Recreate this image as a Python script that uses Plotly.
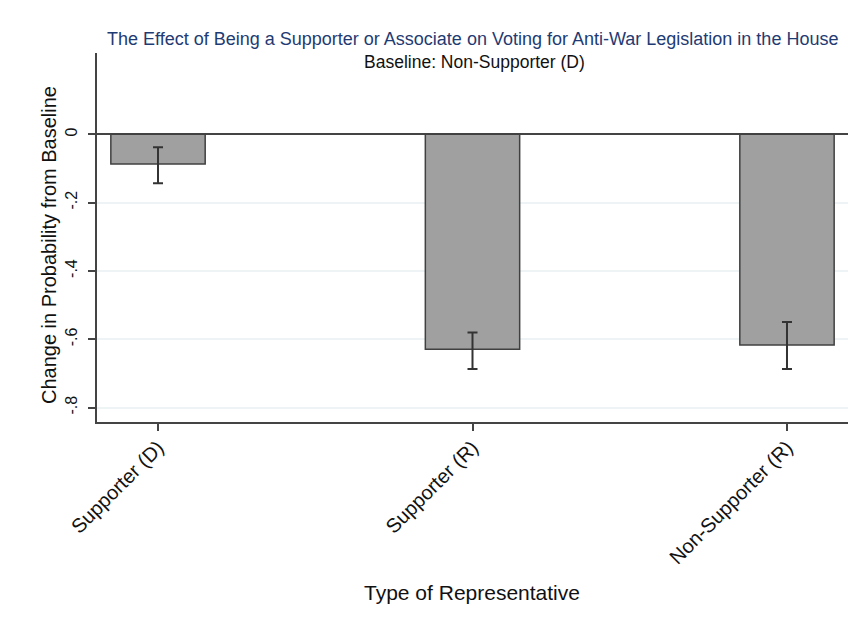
import plotly.graph_objects as go

categories = ["Supporter (D)", "Supporter (R)", "Non-Supporter (R)"]
effects = [-0.087, -0.629, -0.617]
ci_upper = [-0.038, -0.580, -0.549]
ci_lower = [-0.143, -0.687, -0.687]
ytick_vals = [0, -0.2, -0.4, -0.6, -0.8]
ytick_text = ["0", "-.2", "-.4", "-.6", "-.8"]

err_plus = [u - e for u, e in zip(ci_upper, effects)]
err_minus = [e - l for e, l in zip(effects, ci_lower)]

xpos = list(range(len(categories)))

W, H = 856, 622
OFF = 8  # page body offset
# desired on-screen plot box: left 97, right 848, top 53, bottom 422
ML = 97 - OFF
MT = 53 - OFF
MR = W - (848 - OFF)
MB = H - (422 - OFF)
plot_w = W - ML - MR
plot_h = H - MT - MB


def py(pix):
    return 1 - (pix - OFF - MT) / plot_h


def px(pix):
    return (pix - OFF - ML) / plot_w


fig = go.Figure()
fig.add_trace(go.Bar(
    x=xpos, y=effects, width=0.3,
    marker=dict(color="#a0a0a0", line=dict(color="#404040", width=1.5)),
    error_y=dict(type="data", symmetric=False, array=err_plus, arrayminus=err_minus,
                 color="#333333", thickness=2, width=5),
    showlegend=False,
))

font = "Liberation Sans, Arial, sans-serif"
fig.update_layout(
    width=W, height=H,
    margin=dict(l=ML, r=MR, t=MT, b=MB),
    plot_bgcolor="white", paper_bgcolor="white",
    font=dict(family=font, color="#111111"),
    annotations=[
        dict(text="The Effect of Being a Supporter or Associate on Voting for Anti-War Legislation in the House",
             x=px(472), xref="paper", y=py(39), yref="paper", showarrow=False,
             font=dict(size=18, color="#1f3b73"), yanchor="middle", xanchor="center"),
        dict(text="Baseline: Non-Supporter (D)", x=px(474), xref="paper", y=py(62), yref="paper",
             showarrow=False, font=dict(size=17.5, color="#111111"), yanchor="middle", xanchor="center"),
        dict(text="Type of Representative", x=px(472), xref="paper", y=py(592), yref="paper",
             showarrow=False, font=dict(size=21, color="#111111"), yanchor="middle", xanchor="center"),
        dict(text="Change in Probability from Baseline", x=px(49), xref="paper", y=py(245), yref="paper",
             showarrow=False, textangle=-90, font=dict(size=20, color="#111111"),
             yanchor="middle", xanchor="center"),
    ],
)

fig.update_xaxes(
    range=[-0.194, 2.194], tickmode="array", tickvals=xpos, ticktext=categories,
    tickangle=-45, ticks="outside", ticklen=7, tickcolor="#444444", tickwidth=2,
    showline=True, linecolor="#444444", linewidth=2, showgrid=False, zeroline=False,
    tickfont=dict(size=20, family=font, color="#111111"), automargin=False,
    ticklabelstandoff=-3,
)
fig.update_yaxes(
    range=[-0.842, 0.238], tickmode="array", tickvals=ytick_vals, ticktext=ytick_text,
    tickangle=-90, ticks="outside", ticklen=7, tickcolor="#444444", tickwidth=1.5,
    showline=True, linecolor="#444444", linewidth=2,
    showgrid=True, gridcolor="#eef3f5", gridwidth=1.5,
    zeroline=True, zerolinecolor="#444444", zerolinewidth=1.5,
    tickfont=dict(size=16, family=font, color="#111111"), automargin=False,
    ticklabelstandoff=5,
)

fig.write_html("out.html")
